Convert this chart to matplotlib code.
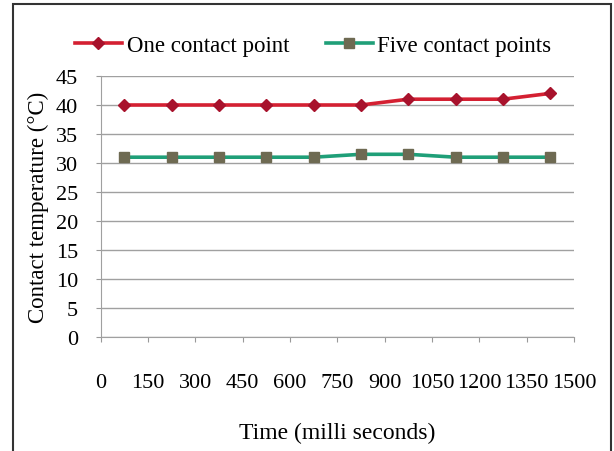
import matplotlib.pyplot as plt
from matplotlib.patches import Rectangle

# data
time_ms = [75, 225, 375, 525, 675, 825, 975, 1125, 1275, 1425]
one_contact = [40, 40, 40, 40, 40, 40, 41, 41, 41, 42]
five_contact = [31, 31, 31, 31, 31, 31.5, 31.5, 31, 31, 31]
x_ticks = [0, 150, 300, 450, 600, 750, 900, 1050, 1200, 1350, 1500]
y_ticks = [0, 5, 10, 15, 20, 25, 30, 35, 40, 45]

plt.rcParams['font.family'] = ['Liberation Serif', 'DejaVu Serif']

W, H = 614, 452
fig = plt.figure(figsize=(W / 100, H / 100), dpi=100)
ax = fig.add_axes([100.6 / W, 1 - 338 / H, (574 - 100.6) / W, (338 - 77) / H])

# outer frame of the chart
fig.patches.append(Rectangle((13 / W, -0.01), (611 - 13) / W, 1 - 5 / H + 0.01,
                             transform=fig.transFigure, fill=False,
                             edgecolor='#333333', linewidth=1.5))

ax.plot(time_ms, one_contact, color='#d42032', linewidth=2.6, marker='D',
        markersize=6, markerfacecolor='#a8122c', markeredgecolor='#a8122c',
        label='One contact point', zorder=3)
ax.plot(time_ms, five_contact, color='#1f9f78', linewidth=2.6, marker='s',
        markersize=6.5, markerfacecolor='#6e6a52', markeredgecolor='#6e6a52',
        label='Five contact points', zorder=3)

ax.set_xlim(0, 1500)
ax.set_ylim(0, 45)
ax.set_xticks(x_ticks)
ax.set_yticks(y_ticks)
ax.tick_params(labelsize=16, length=3.6, color='#999999')
ax.tick_params(axis='x', pad=22)
ax.tick_params(axis='y', pad=12.5)
ax.grid(axis='y', color='#a0a0a0', linewidth=1)
ax.set_axisbelow(True)
for side in ['top', 'right']:
    ax.spines[side].set_visible(False)
for side in ['left', 'bottom']:
    ax.spines[side].set_color('#a0a0a0')

ax.set_xlabel('Time (milli seconds)', fontsize=17, labelpad=22)
ax.set_ylabel('Contact temperature (°C)', fontsize=16.5, labelpad=5)

fig.legend(loc='center left', bbox_to_anchor=(75 / W, 1 - 46 / H), ncol=2,
           frameon=False, fontsize=16.5, handlelength=2.05, handletextpad=0.2,
           columnspacing=1.6, borderpad=0, borderaxespad=0)

fig.savefig('out.png', dpi=100)
